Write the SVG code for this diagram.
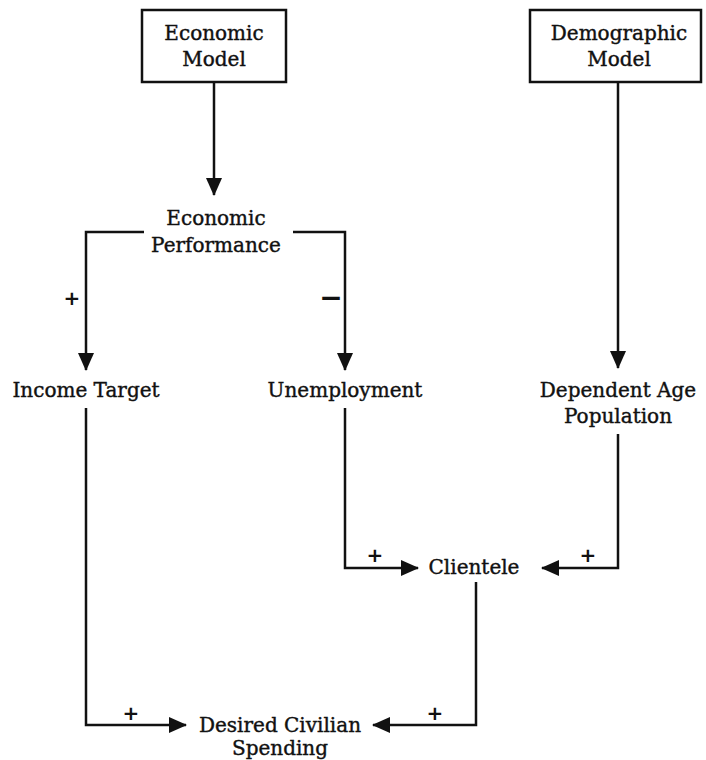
<svg xmlns="http://www.w3.org/2000/svg" width="706" height="760" viewBox="0 0 706 760">
<defs>
<style>
.t{font-family:"DejaVu Serif","Liberation Serif",serif;font-size:20px;fill:#111;stroke:#111;stroke-width:0.4;text-anchor:middle}
.s{font-family:"DejaVu Sans","Liberation Sans",sans-serif;font-size:20px;font-weight:bold;fill:#111;text-anchor:middle}
.box{fill:#fff;stroke:#111;stroke-width:2.5}
.c{fill:none;stroke:#111;stroke-width:2.5;marker-end:url(#ah)}
</style>
<marker id="ah" viewBox="0 0 18 16" refX="17" refY="8" markerWidth="18" markerHeight="16" markerUnits="userSpaceOnUse" orient="auto">
<path d="M0,0 L18,8 L0,16 z" fill="#111"/>
</marker>
</defs>
<rect width="706" height="760" fill="#fff"/>
<g id="economic-model">
<rect class="box" x="142" y="10" width="144" height="72"/>
<text class="t" x="214" y="40">Economic</text>
<text class="t" x="214" y="66">Model</text>
</g>
<g id="demographic-model">
<rect class="box" x="530" y="10" width="171" height="72"/>
<text class="t" x="619" y="40">Demographic</text>
<text class="t" x="619" y="66">Model</text>
</g>
<g id="economic-performance">
<text class="t" x="216" y="225">Economic</text>
<text class="t" x="216" y="252">Performance</text>
</g>
<g id="income-target">
<text class="t" x="86" y="397">Income Target</text>
</g>
<g id="unemployment">
<text class="t" x="345" y="397">Unemployment</text>
</g>
<g id="dependent-age-population">
<text class="t" x="618" y="397">Dependent Age</text>
<text class="t" x="618" y="423">Population</text>
</g>
<g id="clientele">
<text class="t" x="474" y="574">Clientele</text>
</g>
<g id="desired-civilian-spending">
<text class="t" x="280" y="732">Desired Civilian</text>
<text class="t" x="280" y="755">Spending</text>
</g>
<g id="connectors">
<path class="c" d="M214,82 V195"/>
<path class="c" d="M618,82 V368"/>
<path class="c" d="M144,232 H86 V370"/>
<path class="c" d="M293,232 H345 V370"/>
<path class="c" d="M345,408 V568 H418"/>
<path class="c" d="M618,434 V568 H542"/>
<path class="c" d="M86,408 V725 H186"/>
<path class="c" d="M476,582 V725 H373"/>
<text class="s" x="72" y="305">+</text>
<text class="s" x="331" y="307" style="font-size:28px">−</text>
<text class="s" x="375" y="562">+</text>
<text class="s" x="588" y="562">+</text>
<text class="s" x="131" y="720">+</text>
<text class="s" x="435" y="720">+</text>
</g>
</svg>
